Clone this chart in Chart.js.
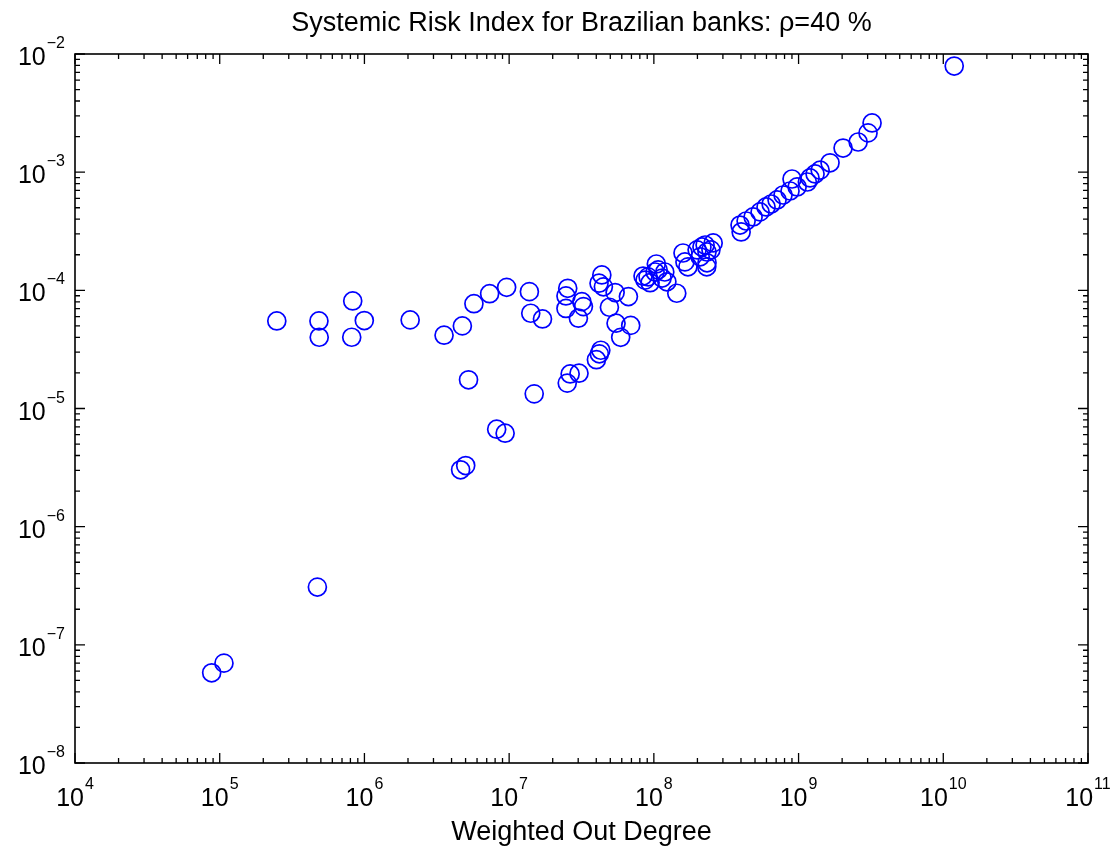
<!DOCTYPE html>
<html>
<head>
<meta charset="UTF-8">
<title>Systemic Risk Index</title>
<script src="https://cdn.jsdelivr.net/npm/chart.js"></script>
<style>
  body { margin: 0; background: #fff; }
  canvas { display: block; }
</style>
</head>
<body>
<canvas id="myChart" width="1115" height="850"></canvas>
<script>
// weighted out degree (x) and systemic risk index (y)
const outDegree = [
  8.8e4, 1.07e5, 4.73e5, 2.48e5, 4.85e5, 4.87e5, 8.30e5, 9.98e5, 8.17e5, 2.07e6,
  3.55e6, 4.75e6, 5.71e6, 5.24e6, 7.33e6, 9.61e6, 1.38e7, 1.41e7, 1.70e7, 1.49e7,
  8.20e6, 9.38e6, 5.01e6, 4.62e6, 2.54e7, 2.47e7, 2.47e7, 2.52e7, 2.64e7, 3.04e7,
  3.18e7, 3.26e7, 3.01e7, 4.37e7, 4.18e7, 4.48e7, 5.40e7, 6.67e7, 4.93e7, 5.48e7,
  6.92e7, 5.90e7, 4.30e7, 4.01e7, 4.20e7,
  8.42e7, 8.69e7, 9.12e7, 9.42e7, 1.02e8, 1.04e8, 1.14e8, 1.19e8, 1.23e8, 1.44e8, 1.07e8,
  1.59e8, 1.64e8, 1.72e8, 1.99e8, 2.09e8, 2.15e8, 2.26e8, 2.33e8, 2.33e8, 2.57e8, 2.32e8, 2.48e8,
  3.94e8, 4.01e8, 4.34e8, 4.85e8, 5.42e8, 5.96e8, 6.46e8, 7.10e8, 7.81e8, 8.73e8,
  9.01e8, 9.77e8, 1.15e9, 1.20e9, 1.30e9, 1.41e9, 1.65e9, 2.03e9, 2.58e9, 3.02e9,
  3.22e9, 1.19e10
];
const riskIndex = [
  5.8e-8, 7.0e-8, 3.08e-7, 5.51e-5, 5.51e-5, 4.01e-5, 8.13e-5, 5.55e-5, 4.01e-5, 5.62e-5,
  4.17e-5, 5.0e-5, 7.71e-5, 1.75e-5, 9.37e-5, 1.06e-4, 9.75e-5, 6.40e-5, 5.73e-5, 1.33e-5,
  6.68e-6, 6.18e-6, 3.29e-6, 3.03e-6, 1.04e-4, 8.97e-5, 7.03e-5, 1.64e-5, 1.96e-5, 1.99e-5,
  8.02e-5, 7.28e-5, 5.81e-5, 1.35e-4, 1.15e-4, 1.07e-4, 9.57e-5, 8.85e-5, 7.19e-5, 5.27e-5,
  5.05e-5, 4.0e-5, 3.11e-5, 2.59e-5, 2.90e-5,
  1.32e-4, 1.22e-4, 1.30e-4, 1.16e-4, 1.43e-4, 1.67e-4, 1.27e-4, 1.43e-4, 1.18e-4, 9.45e-5, 1.49e-4,
  2.07e-4, 1.74e-4, 1.58e-4, 2.20e-4, 1.92e-4, 2.33e-4, 2.42e-4, 1.71e-4, 2.11e-4, 2.52e-4, 1.58e-4, 2.20e-4,
  3.57e-4, 3.12e-4, 3.86e-4, 4.18e-4, 4.61e-4, 5.08e-4, 5.38e-4, 5.82e-4, 6.41e-4, 6.93e-4,
  8.75e-4, 7.50e-4, 8.26e-4, 8.93e-4, 9.66e-4, 1.04e-3, 1.20e-3, 1.60e-3, 1.80e-3, 2.15e-3,
  2.61e-3, 7.91e-3
];
// tick decades (exponents of 10)
const xDecades = [4, 5, 6, 7, 8, 9, 10, 11];
const yDecades = [-8, -7, -6, -5, -4, -3, -2];
const titleText = 'Systemic Risk Index for Brazilian banks: ρ=40 %';
const xLabel = 'Weighted Out Degree';

const FONT = '"Liberation Sans", Arial, sans-serif';

// matlab-like box, ticks on all four sides and 10^n labels
const matlabAxes = {
  id: 'matlabAxes',
  afterDraw(chart) {
    const ctx = chart.ctx;
    const a = chart.chartArea;
    const xs = chart.scales.x, ys = chart.scales.y;
    ctx.save();
    ctx.strokeStyle = '#000';
    ctx.lineWidth = 1.6;
    ctx.strokeRect(a.left, a.top, a.right - a.left, a.bottom - a.top);

    ctx.lineWidth = 1.3;
    ctx.beginPath();
    xDecades.forEach((e, i) => {
      for (let m = 1; m <= 9; m++) {
        if (m > 1 && i == xDecades.length - 1) break;
        const px = xs.getPixelForValue(m * Math.pow(10, e));
        const len = m == 1 ? 10 : 5;
        ctx.moveTo(px, a.bottom); ctx.lineTo(px, a.bottom - len);
        ctx.moveTo(px, a.top); ctx.lineTo(px, a.top + len);
      }
    });
    yDecades.forEach((e, i) => {
      for (let m = 1; m <= 9; m++) {
        if (m > 1 && i == yDecades.length - 1) break;
        const py = ys.getPixelForValue(m * Math.pow(10, e));
        const len = m == 1 ? 10 : 5;
        ctx.moveTo(a.left, py); ctx.lineTo(a.left + len, py);
        ctx.moveTo(a.right, py); ctx.lineTo(a.right - len, py);
      }
    });
    ctx.stroke();

    ctx.fillStyle = '#000';
    const baseFont = '25px ' + FONT, expFont = '16px ' + FONT;

    // x tick labels
    xDecades.forEach(e => {
      const px = xs.getPixelForValue(Math.pow(10, e));
      const exp = String(e);
      ctx.font = baseFont; const wb = ctx.measureText('10').width;
      ctx.font = expFont; const we = ctx.measureText(exp).width;
      const x0 = px - (wb + we + 1) / 2;
      ctx.textAlign = 'left';
      ctx.font = baseFont; ctx.fillText('10', x0, a.bottom + 43);
      ctx.font = expFont; ctx.fillText(exp, x0 + wb + 1, a.bottom + 26);
    });

    // y tick labels
    yDecades.forEach(e => {
      const py = ys.getPixelForValue(Math.pow(10, e));
      const exp = (e < 0 ? '\u2212' : '') + Math.abs(e);
      const right = a.left - 10;
      ctx.textAlign = 'right';
      ctx.font = expFont; const we = ctx.measureText(exp).width;
      ctx.fillText(exp, right, py - 6);
      ctx.font = baseFont; ctx.fillText('10', right - we - 1, py + 11);
    });

    // title and axis label
    ctx.textAlign = 'center';
    ctx.font = '27px ' + FONT;
    const cx = (a.left + a.right) / 2;
    ctx.fillText(titleText, cx, 31);
    ctx.fillText(xLabel, cx, 840);
    ctx.restore();
  }
};

const points = outDegree.map((x, i) => ({ x: x, y: riskIndex[i] }));

new Chart(document.getElementById('myChart').getContext('2d'), {
  type: 'scatter',
  data: {
    datasets: [{
      label: 'SRI',
      data: points,
      pointStyle: 'circle',
      pointRadius: 9,
      pointHoverRadius: 9,
      borderWidth: 1.7,
      borderColor: '#0000ff',
      backgroundColor: 'rgba(0,0,0,0)'
    }]
  },
  options: {
    responsive: false,
    animation: false,
    layout: { padding: { left: 75, top: 54, right: 27, bottom: 87 } },
    plugins: { legend: { display: false }, tooltip: { enabled: false } },
    scales: {
      x: { type: 'logarithmic', min: 1e4, max: 1e11, display: false },
      y: { type: 'logarithmic', min: 1e-8, max: 1e-2, display: false }
    }
  },
  plugins: [matlabAxes]
});
</script>
</body>
</html>
